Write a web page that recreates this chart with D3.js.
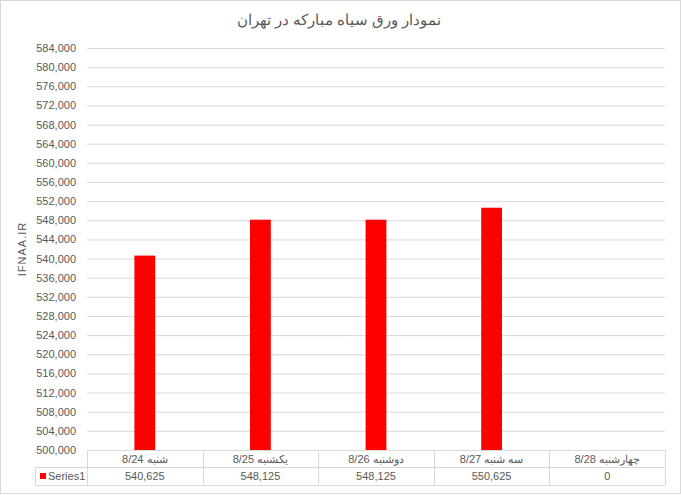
<!DOCTYPE html>
<html><head><meta charset="utf-8">
<script src="https://cdn.jsdelivr.net/npm/d3@7"></script>
<style>body{margin:0;background:#fff}svg{display:block}text{font-family:"Liberation Sans",Arial,sans-serif}</style>
</head><body><svg id="c" width="681" height="495"></svg>
<script>
const categories = ["شنبه 8/24","یکشنبه 8/25","دوشنبه 8/26","سه شنبه 8/27","چهارشنبه 8/28"];
const values = [540625, 548125, 548125, 550625, 0];
const valueLabels = ["540,625","548,125","548,125","550,625","0"];
const yTicks = d3.range(500000, 584001, 4000);
const seriesName = "Series1";
const title = "نمودار ورق سیاه مبارکه در تهران";
const axisTitle = "IFNAA.IR";

const svg = d3.select("#c");
const L = 87, R = 665, T = 48, B = 450;
const x = d3.scaleBand().domain(categories).range([L, R]).paddingInner(0.82).paddingOuter(0.41);
const xc = d3.scaleBand().domain(categories).range([L, R]);
const y = d3.scaleLinear().domain([500000, 584000]).range([B, T]);

svg.append("rect").attr("x",0.5).attr("y",0.5).attr("width",680).attr("height",493)
  .attr("fill","#fff").attr("stroke","#d9d9d9");

const ax = svg.append("g").attr("transform",`translate(${L},0)`)
  .call(d3.axisLeft(y).tickValues(yTicks).tickSize(-(R-L)).tickFormat(d3.format(",")).tickPadding(11));
ax.select(".domain").remove();
ax.selectAll(".tick line").attr("stroke","#d9d9d9");
ax.selectAll(".tick text").attr("fill","#595959").style("font-size","11px");

svg.append("g").selectAll("rect").data(values).join("rect")
  .attr("x",(d,i)=>x(categories[i])).attr("width",x.bandwidth())
  .attr("y",d=>y(Math.max(d,500000))).attr("height",d=>B - y(Math.max(d,500000)))
  .attr("fill","#ff0000");

svg.append("text").attr("x",339).attr("y",25).attr("text-anchor","middle")
  .attr("fill","#595959").style("font-size","15px").text(title);
svg.append("text").attr("transform",`translate(26,${(T+B)/2}) rotate(-90)`).attr("text-anchor","middle")
  .attr("fill","#595959").style("font-size","11px").style("letter-spacing","1px").text(axisTitle);

const rowMid = 467, rowBot = 485, legL = 35;
const tg = svg.append("g").attr("stroke","#d9d9d9").attr("fill","none");
tg.append("line").attr("x1",L).attr("x2",R).attr("y1",B+0.5).attr("y2",B+0.5);
tg.append("line").attr("x1",legL).attr("x2",R).attr("y1",rowMid+0.5).attr("y2",rowMid+0.5);
tg.append("line").attr("x1",legL).attr("x2",R).attr("y1",rowBot+0.5).attr("y2",rowBot+0.5);
tg.append("line").attr("x1",legL+0.5).attr("x2",legL+0.5).attr("y1",rowMid).attr("y2",rowBot);
const edges = categories.map(c=>xc(c)).concat([R]);
tg.selectAll(".v").data(edges).join("line").attr("x1",d=>Math.round(d)+0.5).attr("x2",d=>Math.round(d)+0.5)
  .attr("y1",B).attr("y2",rowBot);

svg.append("g").selectAll("text").data(categories).join("text")
  .attr("x",d=>xc(d)+xc.bandwidth()/2).attr("y",B+13).attr("text-anchor","middle")
  .attr("fill","#595959").style("font-size","11px").text(d=>d);
svg.append("g").selectAll("text").data(valueLabels).join("text")
  .attr("x",(d,i)=>xc(categories[i])+xc.bandwidth()/2).attr("y",rowMid+13).attr("text-anchor","middle")
  .attr("fill","#595959").style("font-size","11px").text(d=>d);
svg.append("rect").attr("x",40).attr("y",473).attr("width",6).attr("height",6).attr("fill","#ff0000");
svg.append("text").attr("x",48).attr("y",rowMid+13).attr("fill","#595959").style("font-size","11px").text(seriesName);
</script></body></html>
